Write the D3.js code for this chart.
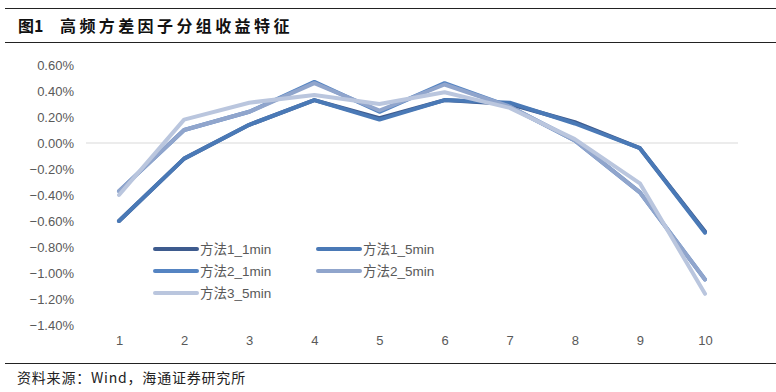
<!DOCTYPE html>
<html>
<head>
<meta charset="utf-8">
<script src="https://cdn.jsdelivr.net/npm/d3@7"></script>
<style>
  body { margin: 0; background: #fff; }
  svg { display: block; font-family: "Liberation Sans", Arial, "Noto Sans CJK SC", sans-serif; }
</style>
</head>
<body>
<svg id="chart" width="776" height="392"></svg>
<script>
const groups = [1, 2, 3, 4, 5, 6, 7, 8, 9, 10]
const yTicks = [0.6, 0.4, 0.2, 0, -0.2, -0.4, -0.6, -0.8, -1.0, -1.2, -1.4]

// group returns, in %
const m1_1min = [-0.60, -0.12, 0.14, 0.33, 0.19, 0.33, 0.30, 0.16, -0.04, -0.68]
const m1_5min = [-0.60, -0.12, 0.14, 0.33, 0.18, 0.33, 0.31, 0.15, -0.04, -0.69]
const m2_1min = [-0.37, 0.10, 0.24, 0.47, 0.24, 0.46, 0.28, 0.02, -0.38, -1.05]
const m2_5min = [-0.37, 0.10, 0.24, 0.46, 0.25, 0.45, 0.28, 0.02, -0.38, -1.05]
const m3_5min = [-0.40, 0.18, 0.31, 0.37, 0.30, 0.39, 0.27, 0.03, -0.31, -1.16]

const seriesNames = ['方法1_1min', '方法1_5min', '方法2_1min', '方法2_5min', '方法3_5min']
const seriesValues = [m1_1min, m1_5min, m2_1min, m2_5min, m3_5min]
const colors = ['#3e5b8e', '#4a79b6', '#5584c2', '#90a5cc', '#bac6de']

const svg = d3.select('#chart')

// header / footer rules
svg.append('line').attr('x1', 5).attr('x2', 776).attr('y1', 8.5).attr('y2', 8.5).attr('stroke', '#222').attr('stroke-width', 1)
svg.append('line').attr('x1', 5).attr('x2', 776).attr('y1', 42.5).attr('y2', 42.5).attr('stroke', '#222').attr('stroke-width', 1)
svg.append('line').attr('x1', 5).attr('x2', 776).attr('y1', 363.5).attr('y2', 363.5).attr('stroke', '#222').attr('stroke-width', 1)

const title = svg.append('text').attr('y', 32)
  .attr('font-size', 16).attr('font-weight', 'bold').attr('fill', '#111')
  .attr('font-family', '"Noto Sans CJK SC", sans-serif')
title.append('tspan').attr('x', 18).text('图1')
title.append('tspan').attr('x', 60).attr('letter-spacing', 3.4).text('高频方差因子分组收益特征')

svg.append('text').attr('x', 17).attr('y', 383)
  .attr('font-size', 14).attr('fill', '#222').attr('letter-spacing', 0.8)
  .attr('font-family', '"Noto Sans CJK SC", sans-serif')
  .text('资料来源：Wind，海通证券研究所')

const x = d3.scaleLinear().domain([1, 10]).range([119, 705])
const y = d3.scaleLinear().domain([-1.4, 0.6]).range([325, 65])

// y axis labels
const yAxis = svg.append('g').attr('transform', 'translate(74,0)')
  .call(d3.axisLeft(y).tickValues(yTicks).tickSize(0).tickPadding(0).tickFormat(d => d3.format('.2f')(d) + '%'))
yAxis.select('.domain').remove()
yAxis.selectAll('text').attr('font-size', 13).attr('fill', '#595959')
  .attr('font-family', '"Liberation Sans", Arial, sans-serif')

// x axis labels
const xAxis = svg.append('g').attr('transform', 'translate(0,336)')
  .call(d3.axisBottom(x).tickValues(groups).tickSize(0).tickPadding(0).tickFormat(d3.format('d')))
xAxis.select('.domain').remove()
xAxis.selectAll('text').attr('font-size', 13).attr('fill', '#595959')
  .attr('font-family', '"Liberation Sans", Arial, sans-serif')

// zero line
svg.append('line').attr('x1', 86).attr('x2', 738).attr('y1', y(0)).attr('y2', y(0))
  .attr('stroke', '#d9d9d9').attr('stroke-width', 1)

const line = d3.line().x((d, i) => x(groups[i])).y(d => y(d))

svg.append('g').selectAll('path')
  .data(seriesValues)
  .enter().append('path')
  .attr('d', d => line(d))
  .attr('fill', 'none')
  .attr('stroke', (d, i) => colors[i])
  .attr('stroke-width', 4)
  .attr('stroke-linejoin', 'round')
  .attr('stroke-linecap', 'round')

// legend
const legendPos = [[155, 249], [318, 249], [155, 271], [318, 271], [155, 293]]
const legend = svg.append('g').selectAll('g')
  .data(seriesNames)
  .enter().append('g')
  .attr('transform', (d, i) => 'translate(' + legendPos[i][0] + ',' + legendPos[i][1] + ')')

legend.append('line').attr('x1', 0).attr('x2', 42).attr('y1', 0).attr('y2', 0)
  .attr('stroke', (d, i) => colors[i]).attr('stroke-width', 4).attr('stroke-linecap', 'round')
legend.append('text').attr('x', 45).attr('y', 5)
  .attr('font-size', 13.5).attr('fill', '#595959')
  .text(d => d)
</script>
</body>
</html>
